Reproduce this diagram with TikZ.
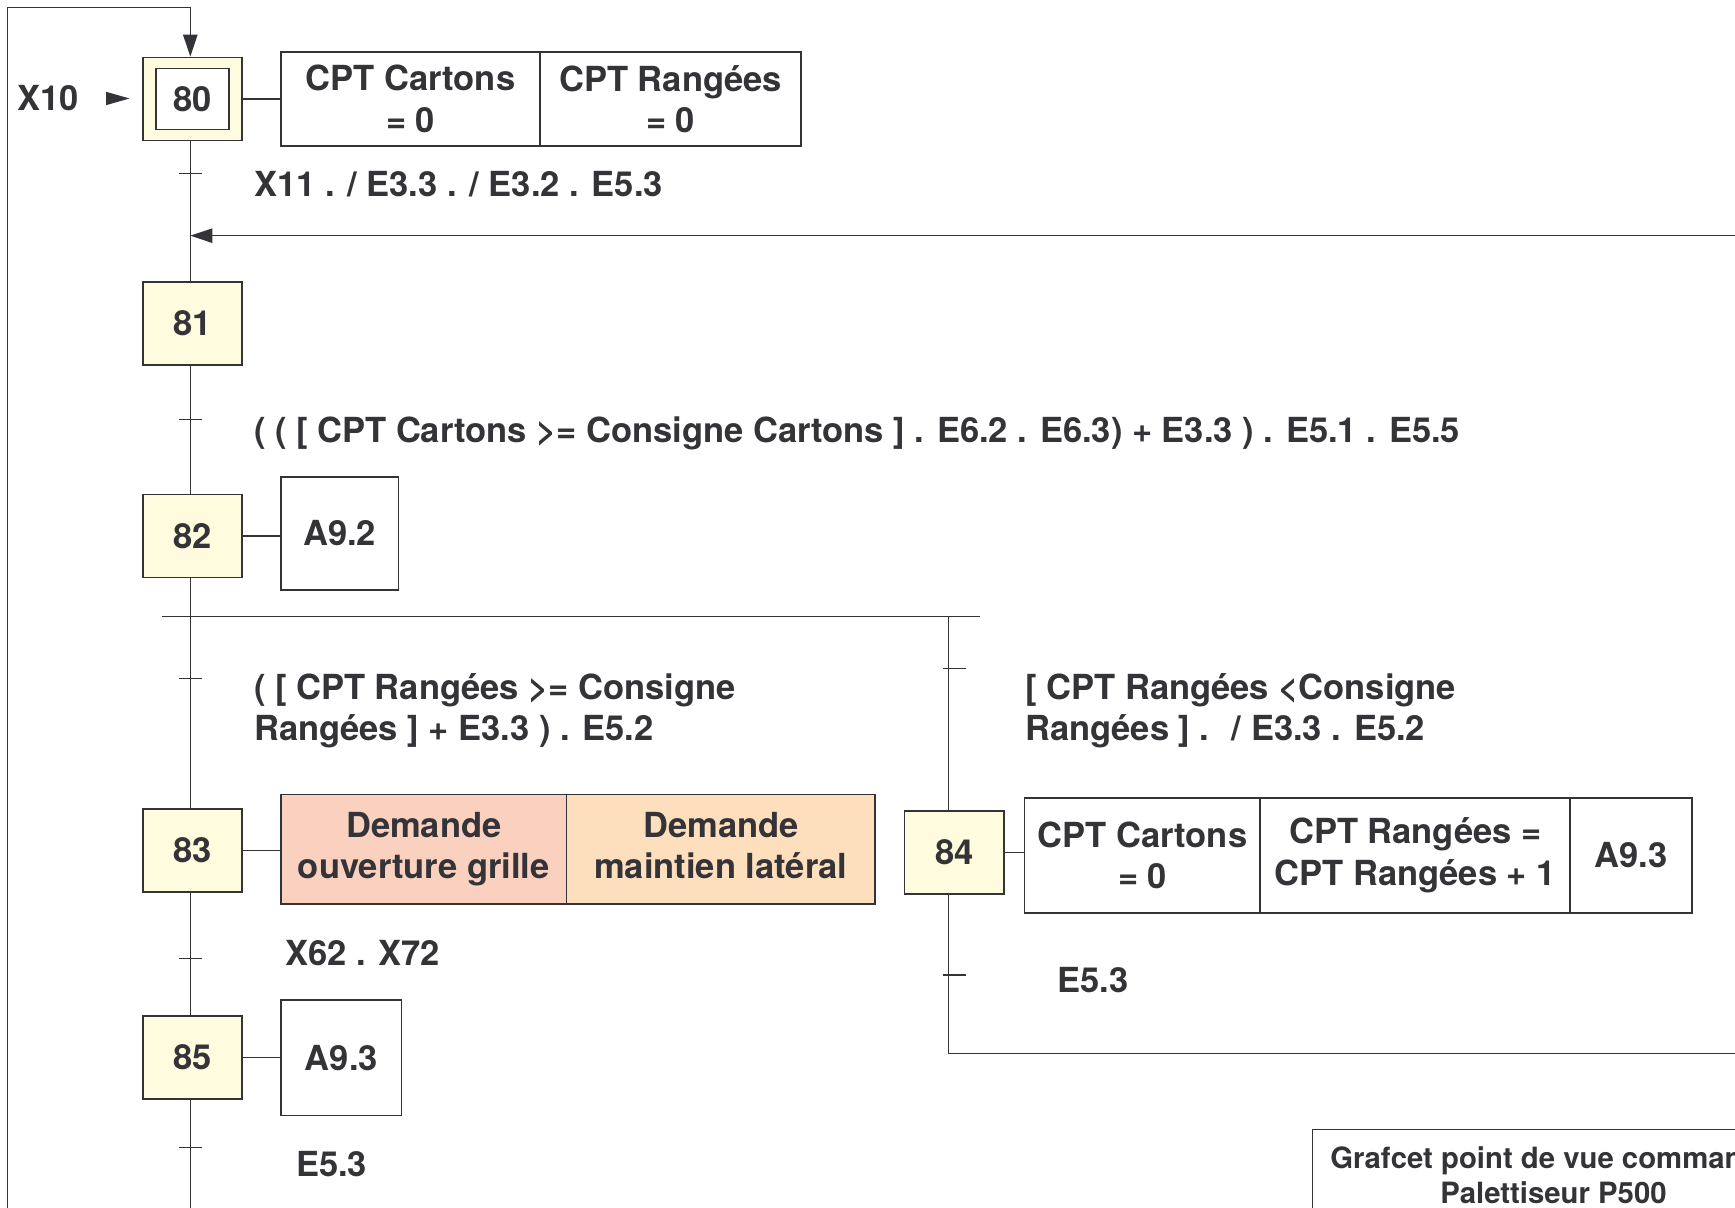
\documentclass[tikz,border=0pt]{standalone}
\usepackage{fontspec}
\setmainfont{TeX Gyre Heros}
\usetikzlibrary{arrows.meta}
\definecolor{ink}{RGB}{52,52,56}
\definecolor{stepfill}{RGB}{255,251,222}
\definecolor{pinkfill}{RGB}{250,208,190}
\definecolor{orangefill}{RGB}{253,223,190}
\begin{document}
\begin{tikzpicture}[x=1pt,y=-1pt,color=ink,line width=1.3pt,
  big/.style={font=\fontsize{31.2}{37.5}\selectfont\bfseries},
  txt/.style={big,inner sep=0pt,text=ink},
  stepbox/.style={draw=ink,fill=stepfill,line width=1.5pt,minimum width=90pt,
    minimum height=75pt,inner sep=0pt,big},
  actbox/.style={draw=ink,line width=1.5pt,fill=white,inner sep=0pt,align=center,big},
  tick/.style={line width=1.3pt},
  arr/.style={-{Triangle[length=20pt,width=13pt]}}]
\useasboundingbox (0,0) rectangle (1568,1091);
\clip (0,0) rectangle (1568,1091);

% steps
\node[stepbox] (s80) at (174,89.5) {};
\node[draw=ink,fill=white,line width=1.5pt,minimum width=66pt,minimum height=55pt,
  inner sep=0pt,big] (s80i) at (174,89.5) {80};
\node[stepbox] (s81) at (174,292.5) {81};
\node[stepbox] (s82) at (174,484.5) {82};
\node[stepbox] (s83) at (174,768.5) {83};
\node[stepbox] (s85) at (174,955.5) {85};
\node[stepbox] (s84) at (862.5,770.5) {84};

% actions
\node[actbox,minimum width=234pt,minimum height=85pt] (a80a) at (371,89.5) {CPT Cartons\\= 0};
\node[actbox,minimum width=236pt,minimum height=85pt] (a80b) at (606,89.5) {CPT Rangées\\= 0};
\node[actbox,minimum width=106pt,minimum height=102pt] (a82) at (307,482) {A9.2};
\node[actbox,fill=pinkfill,minimum width=258pt,minimum height=99pt] (a83a) at (383,767.5) {Demande\\ouverture grille};
\node[actbox,fill=orangefill,minimum width=279pt,minimum height=99pt] (a83b) at (651.5,767.5) {Demande\\maintien latéral\vphantom{g}};
\node[actbox,minimum width=109pt,minimum height=104pt] (a85) at (308.5,956) {A9.3};
\node[actbox,minimum width=213pt,minimum height=104pt] (a84a) at (1032.5,773) {CPT Cartons\\= 0};
\node[actbox,minimum width=280pt,minimum height=104pt] (a84b) at (1279,773) {CPT Rangées =\\CPT Rangées + 1};
\node[actbox,minimum width=110pt,minimum height=104pt] (a84c) at (1474,773) {A9.3};

% step to action links
\draw (s80.east) -- (s80.east -| a80a.west);
\draw (s82.east) -- (s82.east -| a82.west);
\draw (s83.east) -- (s83.east -| a83a.west);
\draw (s85.east) -- (s85.east -| a85.west);
\draw (s84.east) -- (s84.east -| a84a.west);

% initial activation mark
\node[txt,anchor=base west] (x10) at (15,100) {X10};
\fill (96,83) -- (117,89) -- (96,95) -- cycle;

% loop coming back into step 80
\coordinate (loopBL) at (7,1100);
\coordinate (loopTL) at (7,7);
\coordinate (loopTR) at (172,7);
\draw[arr] (loopBL) -- (loopTL) -- (loopTR) -- ([xshift=-2pt]s80.north);

% main sequence
\draw ([xshift=-2pt]s80.south) -- ([xshift=-2pt]s81.north);
\coordinate (retR) at (1580,213);
\coordinate (retL) at (172,213);
\draw[arr] (retR) -- (retL);
\draw ([xshift=-2pt]s81.south) -- ([xshift=-2pt]s82.north);
\draw ([xshift=-2pt]s82.south) -- ([xshift=-2pt]s83.north);
\draw ([xshift=-2pt]s83.south) -- ([xshift=-2pt]s85.north);
\coordinate (endM) at (172,1100);
\draw ([xshift=-2pt]s85.south) -- (endM);

% selection divergence
\coordinate (divL) at (146,557);
\coordinate (divR) at (886,557);
\draw (divL) -- (divR);
\coordinate (brR) at (857,557);
\draw (brR) -- (brR |- s84.north);
\coordinate (brB) at (857,952);
\coordinate (brE) at (1580,952);
\draw (brR |- s84.south) -- (brB) -- (brE);

% transitions
\foreach \y in {157,379,613,866,1037} \draw[tick] (162,\y) -- (183,\y);
\foreach \y in {604,881} \draw[tick] (852,\y) -- (873,\y);

\node[txt,anchor=base west] (t1) at (229,178) {X11 . / E3.3 . / E3.2 . E5.3};
\node[txt,anchor=base west] (t2) at (229,400) {( ( [ CPT Cartons >= Consigne Cartons ] . E6.2 . E6.3) + E3.3 ) . E5.1 . E5.5};
\node[txt,anchor=north west,align=left] (t3) at (229,608) {( [ CPT Rangées >= Consigne\\Rangées ] + E3.3 ) . E5.2};
\node[txt,anchor=north west,align=left] (t4) at (926,608) {[ CPT Rangées <Consigne\\Rangées ] . \ / E3.3 . E5.2};
\node[txt,anchor=base west] (t5) at (257,873) {X62 . X72};
\node[txt,anchor=base west] (t6) at (267,1063) {E5.3};
\node[txt,anchor=base west] (t7) at (955,897) {E5.3};

% title block
\node[draw=ink,line width=1.3pt,fill=white,minimum width=436pt,minimum height=82pt,
  inner sep=0pt,align=center,font=\fontsize{26.5}{32}\selectfont\bfseries] (title)
  at (1404,1062) {Grafcet point de vue commande\\Palettiseur P500};
\end{tikzpicture}
\end{document}
